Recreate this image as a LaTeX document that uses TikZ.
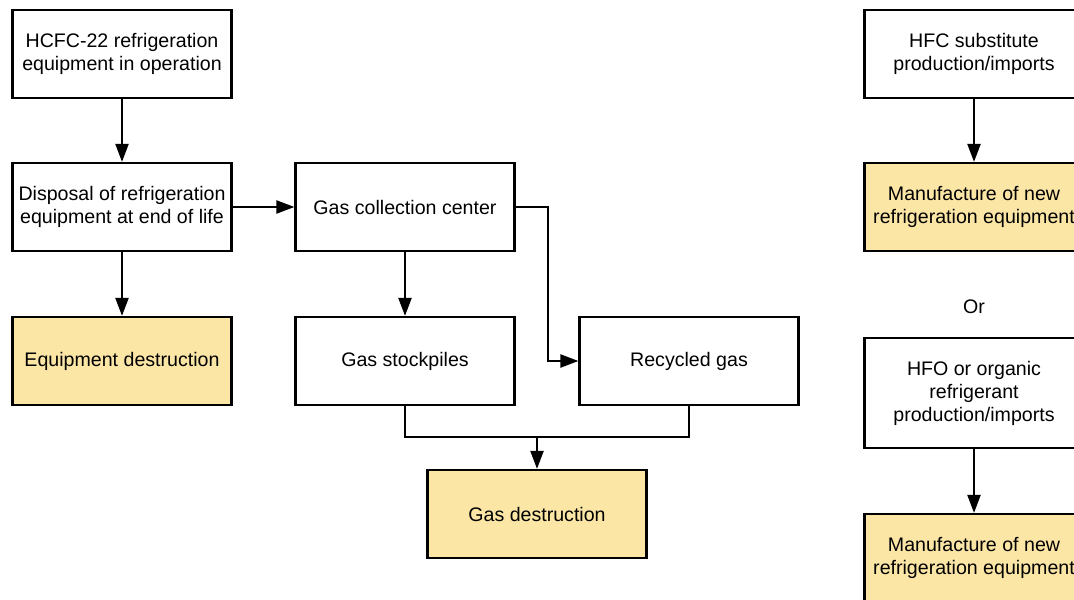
\documentclass[tikz,border=0pt]{standalone}
\usepackage{fontspec}
\setmainfont{Liberation Sans}
\usepackage{tikz}
\usetikzlibrary{arrows.meta}

\definecolor{boxyellow}{HTML}{FCE6A6}

\begin{document}
\begin{tikzpicture}[x=0.5pt, y=-0.5pt,
    box/.style={draw, line width=1.1pt, minimum width=109.5pt, minimum height=44pt,
      inner sep=0pt, align=center, font=\fontsize{9.8}{11.5}\selectfont},
    hotbox/.style={box, fill=boxyellow},
    flow/.style={line width=1.1pt, -{Triangle[length=9pt, width=6.5pt]}},
    link/.style={line width=1.1pt}]
    \useasboundingbox (0,0) rectangle (1074,599);
    \clip (0,0) rectangle (1074,599);
    \fill[white] (0,0) rectangle (1074,599);
    % left column
    \node[box] (hcfc) at (122,54) {HCFC-22 refrigeration\\equipment in operation};
    \node[box] (disposal) at (122,207) {Disposal of refrigeration\\equipment at end of life};
    \node[hotbox] (equip) at (122,361) {Equipment destruction};
    % gas handling
    \node[box] (collect) at (405,207) {Gas collection center};
    \node[box] (stock) at (405,361) {Gas stockpiles};
    \node[box] (recyc) at (689,361) {Recycled gas};
    \node[hotbox] (gasdest) at (537,514) {Gas destruction};
    \coordinate (join) at (537,437);
    % right column
    \node[box] (hfc) at (974,54) {HFC substitute\\production/imports};
    \node[hotbox] (manufa) at (974,207) {Manufacture of new\\refrigeration equipment};
    \node[font=\fontsize{9.8}{11.5}\selectfont] (or) at (974,307) {Or};
    \node[box, minimum height=55pt] (hfo) at (974,393) {HFO or organic\\refrigerant\\production/imports};
    \node[hotbox] (manufb) at (974,558) {Manufacture of new\\refrigeration equipment};

    \draw[flow] (hcfc) -- (disposal);
    \draw[flow] (disposal) -- (equip);
    \draw[flow] (disposal) -- (collect);
    \draw[flow] (collect) -- (stock);
    \draw[flow] (collect.east) -- ++(32,0) |- (recyc.west);
    \draw[link] (stock.south) |- (join) -| (recyc.south);
    \draw[flow] (join) -- (gasdest.north);
    \draw[flow] (hfc) -- (manufa);
    \draw[flow] (hfo) -- (manufb);
  \end{tikzpicture}
\end{document}
